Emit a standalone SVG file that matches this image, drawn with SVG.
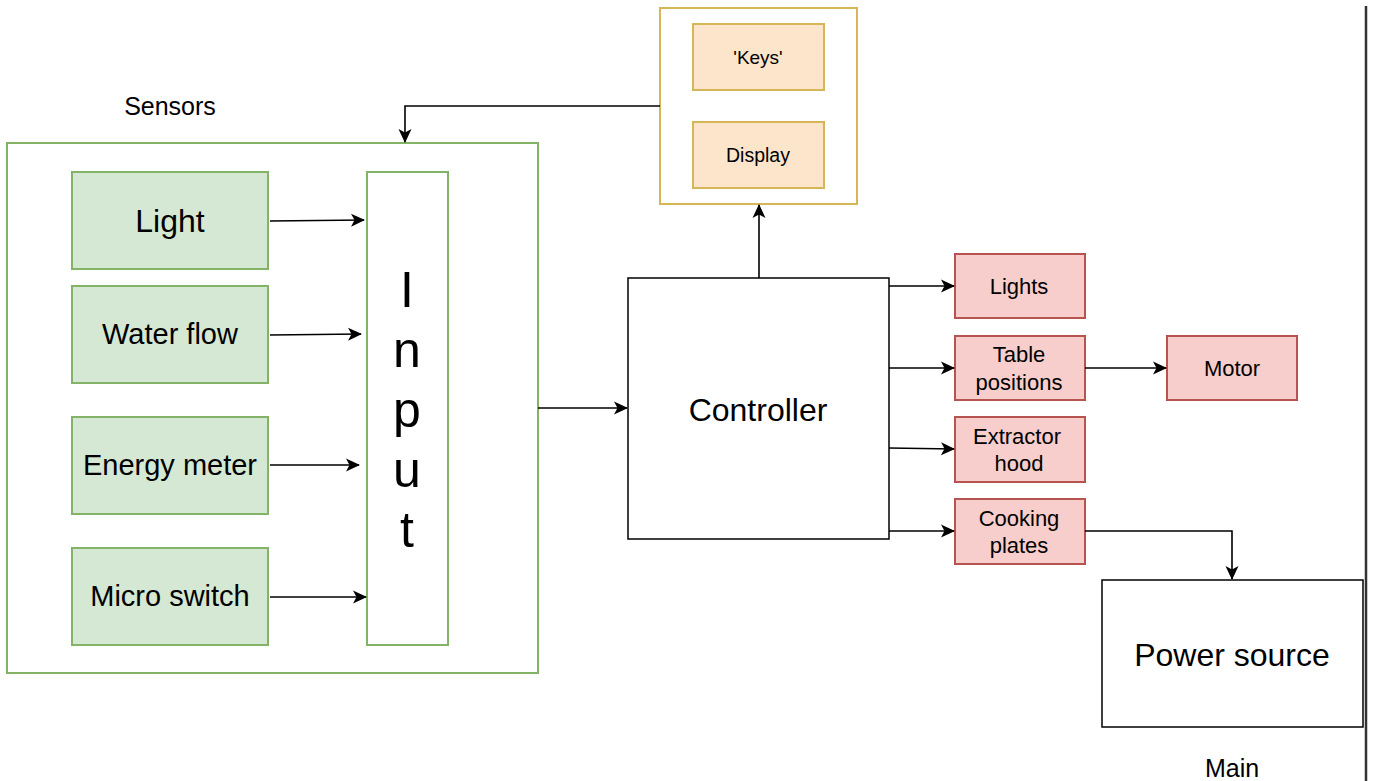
<svg xmlns="http://www.w3.org/2000/svg" width="1373" height="781" viewBox="0 0 1373 781">
<style>
text{font-family:"Liberation Sans",Arial,sans-serif;fill:#000;text-anchor:middle;dominant-baseline:central}
.g{fill:#d5e8d4;stroke:#82b366;stroke-width:2}
.gc{fill:#fff;stroke:#82b366;stroke-width:2}
.o{fill:#fde5cc;stroke:#d6b656;stroke-width:2}
.oc{fill:#fff;stroke:#d6b656;stroke-width:2}
.r{fill:#f8cecc;stroke:#b85450;stroke-width:2}
.w{fill:#fff;stroke:#000;stroke-width:1.5}
.c{fill:none;stroke:#000;stroke-width:1.6;marker-end:url(#a)}
</style>
<defs>
<marker id="a" markerWidth="14" markerHeight="14" viewBox="0 0 14 14" refX="13" refY="7" orient="auto" markerUnits="userSpaceOnUse">
<path d="M0,0.5 L14,7 L0,13.5 L3.5,7 Z" fill="#000"/>
</marker>
</defs>
<rect width="1373" height="781" fill="#fff"/>
<line x1="1366" y1="6" x2="1366" y2="781" stroke="#333" stroke-width="2.5"/>
<g id="sensors">
<rect class="gc" x="7" y="143" width="531" height="530"/>
<text x="170" y="106" font-size="25">Sensors</text>
</g>
<g id="light"><rect class="g" x="72" y="172" width="196" height="97"/><text x="170" y="221" font-size="32">Light</text></g>
<g id="waterflow"><rect class="g" x="72" y="286" width="196" height="97"/><text x="170" y="334" font-size="29">Water flow</text></g>
<g id="energymeter"><rect class="g" x="72" y="417" width="196" height="97"/><text x="170" y="465" font-size="29">Energy meter</text></g>
<g id="microswitch"><rect class="g" x="72" y="548" width="196" height="97"/><text x="170" y="596" font-size="29">Micro switch</text></g>
<g id="input"><rect class="gc" x="367" y="172" width="81" height="473"/>
<text x="407" font-size="50"><tspan x="407" y="290">I</tspan><tspan x="407" y="350">n</tspan><tspan x="407" y="410">p</tspan><tspan x="407" y="470">u</tspan><tspan x="407" y="530">t</tspan></text></g>
<g id="ui"><rect class="oc" x="660" y="8" width="197" height="196"/></g>
<g id="keys"><rect class="o" x="693" y="24" width="131" height="66"/><text x="758" y="57" font-size="19">'Keys'</text></g>
<g id="display"><rect class="o" x="693" y="122" width="131" height="66"/><text x="758" y="155" font-size="19.5">Display</text></g>
<g id="controller"><rect class="w" x="628" y="278" width="261" height="261"/><text x="758" y="410" font-size="32">Controller</text></g>
<g id="lights"><rect class="r" x="955" y="254" width="130" height="64"/><text x="1019" y="286" font-size="22">Lights</text></g>
<g id="table"><rect class="r" x="955" y="336" width="130" height="64"/><text font-size="22"><tspan x="1019" y="354">Table</tspan><tspan x="1019" y="382">positions</tspan></text></g>
<g id="extractor"><rect class="r" x="955" y="417" width="130" height="65"/><text font-size="22"><tspan x="1017" y="436">Extractor</tspan><tspan x="1019" y="463">hood</tspan></text></g>
<g id="cooking"><rect class="r" x="955" y="499" width="130" height="65"/><text font-size="22"><tspan x="1019" y="518">Cooking</tspan><tspan x="1019" y="545">plates</tspan></text></g>
<g id="motor"><rect class="r" x="1167" y="336" width="130" height="64"/><text x="1232" y="368" font-size="22">Motor</text></g>
<g id="power"><rect class="w" x="1102" y="580" width="261" height="147"/><text x="1232" y="655" font-size="32">Power source</text></g>
<g id="main"><text x="1232" y="768" font-size="25">Main</text></g>
<g id="connectors">
<path class="c" d="M270,221 L364,220"/>
<path class="c" d="M270,335 L361,334"/>
<path class="c" d="M270,465 L359,465"/>
<path class="c" d="M270,597 L366,597"/>
<path class="c" d="M538,408 L627,408"/>
<path class="c" d="M759,278 L759,205"/>
<path class="c" d="M660,106 L405,106 L405,142"/>
<path class="c" d="M889,286 L954,286"/>
<path class="c" d="M889,368 L954,368"/>
<path class="c" d="M889,448 L954,449"/>
<path class="c" d="M889,531 L954,531"/>
<path class="c" d="M1085,368 L1166,368"/>
<path class="c" d="M1085,531 L1232,531 L1232,579"/>
</g>
</svg>
